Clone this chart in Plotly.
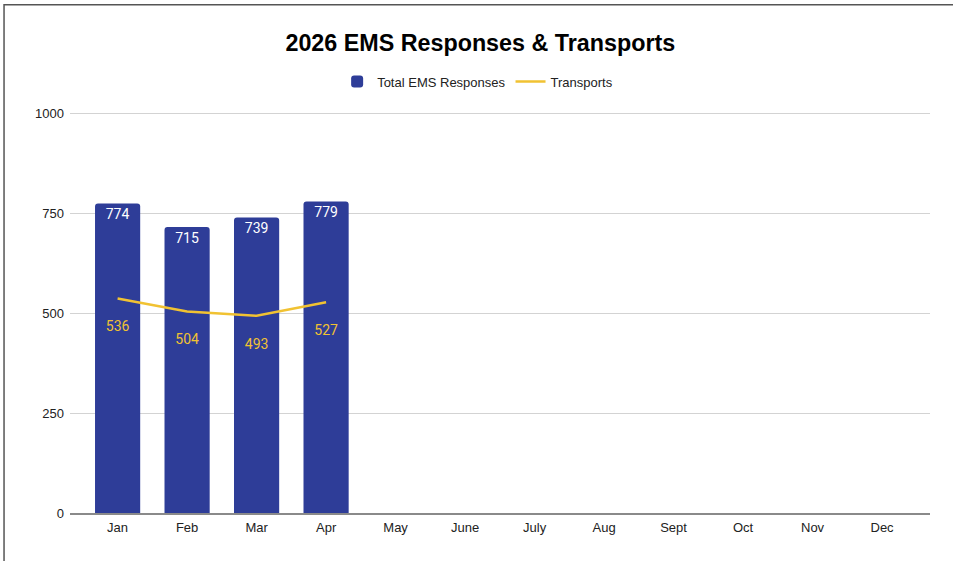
"""
2026 EMS Responses & Transports - Plotly combo chart
"""
import plotly.graph_objects as go

# data
MONTHS = ["Jan", "Feb", "Mar", "Apr", "May", "June", "July", "Aug", "Sept", "Oct", "Nov", "Dec"]
TOTAL_RESPONSES = [774, 715, 739, 779, None, None, None, None, None, None, None, None]
TRANSPORTS = [536, 504, 493, 527, None, None, None, None, None, None, None, None]
Y_TICKS = [0, 250, 500, 750, 1000]

COLORS = {
    "bar": "#2e3d98",
    "line": "#f1c232",
    "grid": "#d3d3d3",
    "axis": "#8a8a8a",
    "text": "#222222",
    "frame": "#555555",
}

fig = go.Figure()

fig.add_trace(go.Bar(
    x=MONTHS,
    y=TOTAL_RESPONSES,
    name="Total EMS Responses",
    marker=dict(color=COLORS["bar"], cornerradius=3, line=dict(width=0)),
    text=[str(v) if v is not None else "" for v in TOTAL_RESPONSES],
    textposition="inside",
    insidetextanchor="end",
    textangle=0,
    textfont=dict(family="Roboto", size=14, color="white"),
))

fig.add_trace(go.Scatter(
    x=MONTHS,
    y=TRANSPORTS,
    name="Transports",
    mode="lines+markers+text",
    line=dict(color=COLORS["line"], width=2.5),
    # invisible marker just pushes the labels down a bit
    marker=dict(size=34, color="rgba(0,0,0,0)"),
    text=[str(v) if v is not None else "" for v in TRANSPORTS],
    textposition="bottom center",
    textfont=dict(family="Roboto", size=14, color=COLORS["line"]),
))

fig.update_layout(
    width=953,
    height=561,
    title=dict(
        text="<b>2026 EMS Responses & Transports</b>",
        x=0.504, xanchor="center", y=0.924, yanchor="middle",
        font=dict(family="Liberation Sans, Arial", size=23.3, color="#000000"),
    ),
    legend=dict(
        orientation="h", x=0.474, xanchor="center", y=1.073, yanchor="middle",
        font=dict(family="Liberation Sans, Arial", size=13, color=COLORS["text"]),
        itemwidth=30,
    ),
    plot_bgcolor="white",
    paper_bgcolor="white",
    bargap=0.35,
    margin=dict(l=70, r=23, t=111, b=48),
    font=dict(family="Liberation Sans, Arial", size=13, color=COLORS["text"]),
    showlegend=True,
)

fig.update_xaxes(
    type="category",
    range=[-0.685, 11.69],
    showgrid=False,
    showline=True,
    linecolor=COLORS["axis"],
    linewidth=1.5,
    ticks="",
    ticklabelstandoff=2,
    tickfont=dict(size=13, color=COLORS["text"]),
)
fig.update_yaxes(
    range=[0, 1005],
    tickmode="array",
    tickvals=Y_TICKS,
    showgrid=True,
    gridcolor=COLORS["grid"],
    gridwidth=1,
    zeroline=False,
    ticks="",
    ticklabelstandoff=5,
    tickfont=dict(size=13, color=COLORS["text"]),
)

# outer frame of the chart box (runs past the right/bottom edge)
fig.add_shape(
    type="rect", xref="paper", yref="paper",
    x0=-0.0767, x1=1.05, y0=-0.16, y1=1.2645,
    line=dict(color=COLORS["frame"], width=1.5),
    fillcolor="rgba(0,0,0,0)",
    layer="above",
)

fig.write_html(
    "out.html",
    config={"displayModeBar": False},
    post_script="document.body.style.margin='0';",
)
